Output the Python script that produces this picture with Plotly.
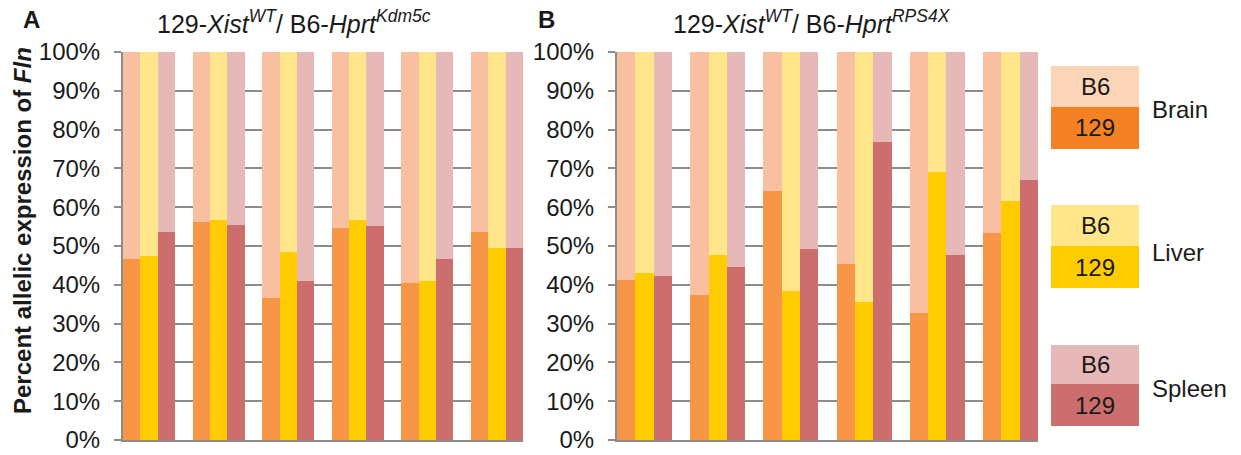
import plotly.graph_objects as go

W, H = 1241, 455
OFF = 8  # the page places the plot 8px from the window's top-left corner

# ---- data (percent of 129 allele; B6 = 100 - 129) ----
tissues = ["Brain", "Liver", "Spleen"]
panelA_brain_129 = [46.7, 56.1, 36.6, 54.7, 40.5, 53.5]
panelA_liver_129 = [47.3, 56.8, 48.4, 56.8, 41.1, 49.5]
panelA_spleen_129 = [53.6, 55.4, 40.9, 55.1, 46.7, 49.5]
panelB_brain_129 = [41.3, 37.4, 64.2, 45.4, 32.8, 53.4]
panelB_liver_129 = [43.0, 47.8, 38.3, 35.6, 69.0, 61.6]
panelB_spleen_129 = [42.2, 44.5, 49.1, 76.9, 47.8, 66.9]
y_ticks = [0, 10, 20, 30, 40, 50, 60, 70, 80, 90, 100]
y_tick_labels = [f"{v}%" for v in y_ticks]

bar_129 = {"Brain": "#F79646", "Liver": "#FFCC00", "Spleen": "#CC6E6E"}
bar_b6 = {"Brain": "#F9BFA1", "Liver": "#FFE68A", "Spleen": "#E6B8B8"}
leg_129 = {"Brain": "#F58125", "Liver": "#FFCC00", "Spleen": "#CC6E6E"}
leg_b6 = {"Brain": "#FCD5B6", "Liver": "#FFE68A", "Spleen": "#E6B8B8"}

FONT = "'Liberation Sans', Arial, sans-serif"
TXT = "#1a1a1a"

def px(x):
    return (x - OFF) / W

def py(y):
    return (H - (y - OFF)) / H

fig = go.Figure()

panels = [
    ("x", "y", [panelA_brain_129, panelA_liver_129, panelA_spleen_129]),
    ("x2", "y2", [panelB_brain_129, panelB_liver_129, panelB_spleen_129]),
]
for xa, ya, series in panels:
    for t_i, (tissue, vals) in enumerate(zip(tissues, series)):
        xs = [g * 4 + t_i for g in range(len(vals))]
        fig.add_trace(go.Bar(x=xs, y=vals, width=1, marker=dict(color=bar_129[tissue], line=dict(width=0)),
                             xaxis=xa, yaxis=ya, showlegend=False, name=f"{tissue} 129"))
        fig.add_trace(go.Bar(x=xs, y=[100 - v for v in vals], width=1,
                             marker=dict(color=bar_b6[tissue], line=dict(width=0)),
                             xaxis=xa, yaxis=ya, showlegend=False, name=f"{tissue} B6"))

ydom = [py(440), py(52)]
yax = dict(range=[0, 100], tickvals=y_ticks, ticktext=y_tick_labels, showgrid=True, gridcolor="#8C8C8C",
           gridwidth=2, showline=True, linecolor="#8C8C8C", linewidth=2, ticks="outside", ticklen=7,
           tickcolor="#8C8C8C", tickwidth=2, tickfont=dict(family=FONT, size=24, color=TXT), zeroline=False,
           domain=ydom, fixedrange=True, automargin=False, ticklabelstandoff=9)
xax = dict(range=[-0.5, 22.5], showgrid=False, showticklabels=False, ticks="", showline=True,
           linecolor="#8C8C8C", linewidth=2, zeroline=False, fixedrange=True, automargin=False)

fig.update_layout(
    width=W, height=H, autosize=False, margin=dict(l=0, r=0, t=0, b=0, pad=0),
    paper_bgcolor="white", plot_bgcolor="white", barmode="stack", bargap=0, showlegend=False,
    xaxis=dict(xax, domain=[px(123), px(523)], anchor="y"),
    yaxis=dict(yax, anchor="x"),
    xaxis2=dict(xax, domain=[px(617), px(1038)], anchor="y2"),
    yaxis2=dict(yax, anchor="x2"),
    font=dict(family=FONT, color=TXT),
)

def text_ann(x, y, text, size=24, xanchor="center", **kw):
    return dict(x=px(x), y=py(y), xref="paper", yref="paper", text=text, showarrow=False,
                xanchor=xanchor, yanchor="middle", font=dict(size=size, family=FONT, color=TXT), **kw)

ann = [
    text_ann(31, 19, "<b>A</b>"),
    text_ann(546, 19, "<b>B</b>"),
    text_ann(294, 22, "129-<i>Xist</i><sup><i>WT</i></sup>/ B6-<i>Hprt</i><sup><i>Kdm5c</i></sup>", size=25),
    text_ann(812, 22, "129-<i>Xist</i><sup><i>WT</i></sup>/ B6-<i>Hprt</i><sup><i>RPS4X</i></sup>", size=25),
    text_ann(22, 231, "<b>Percent allelic expression of <i>Fln</i></b>", textangle=-90),
]

shapes = []
legend_rows = [("Brain", 66, 107, 149, 110), ("Liver", 205, 246, 288, 252), ("Spleen", 345, 384, 426, 388)]
for tissue, top, mid, bot, ty in legend_rows:
    shapes.append(dict(type="rect", xref="paper", yref="paper", x0=px(1051), x1=px(1139), y0=py(mid), y1=py(top),
                       fillcolor=leg_b6[tissue], line=dict(width=0), layer="above"))
    shapes.append(dict(type="rect", xref="paper", yref="paper", x0=px(1051), x1=px(1139), y0=py(bot), y1=py(mid),
                       fillcolor=leg_129[tissue], line=dict(width=0), layer="above"))
    ann.append(text_ann(1095, (top + mid) / 2, "B6"))
    ann.append(text_ann(1095, (mid + bot) / 2, "129"))
    ann.append(text_ann(1150, ty, tissue, xanchor="left"))

fig.update_layout(annotations=ann, shapes=shapes)
fig.write_html("out.html")
